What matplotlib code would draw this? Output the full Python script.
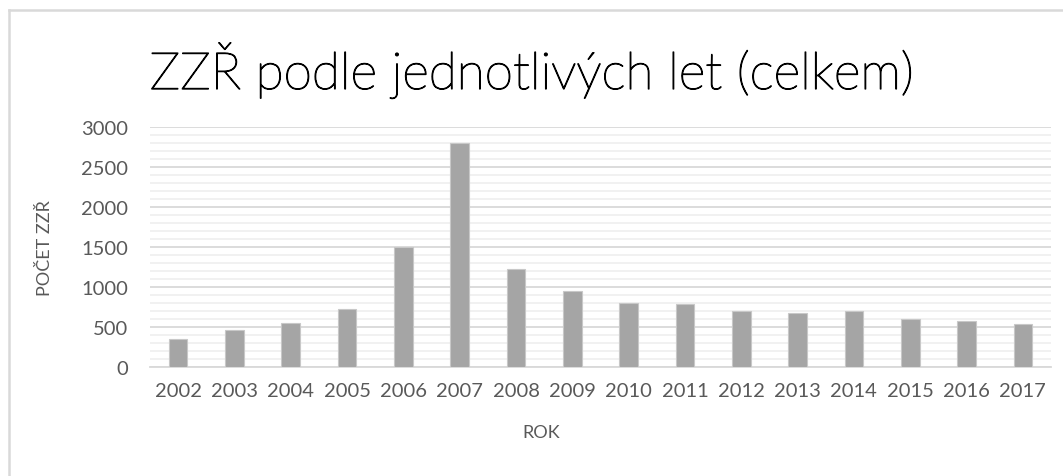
import matplotlib.pyplot as plt
import matplotlib.patheffects as pe
from matplotlib.lines import Line2D
from matplotlib.ticker import MultipleLocator

years = ['2002', '2003', '2004', '2005', '2006', '2007', '2008', '2009',
         '2010', '2011', '2012', '2013', '2014', '2015', '2016', '2017']
counts = [350, 465, 545, 725, 1495, 2800, 1230, 945,
          800, 790, 695, 670, 705, 600, 575, 540]

plt.rcParams['font.family'] = ['Lato', 'DejaVu Sans']

TEXT = '#595959'
BAR = '#a5a5a5'

fig = plt.figure(figsize=(10.63, 4.77), dpi=100, facecolor='white')
ax = fig.add_axes([150 / 1063, 1 - 368 / 477, 901 / 1063, 240 / 477])

x = range(len(years))
ax.bar(x, counts, width=0.33, color=BAR, edgecolor='#c8c8c8', linewidth=0.8, zorder=3)

ax.set_xlim(-0.5, len(years) - 0.5)
ax.set_ylim(0, 3000)
ax.yaxis.set_major_locator(MultipleLocator(500))
ax.yaxis.set_minor_locator(MultipleLocator(100))
ax.grid(which='major', axis='y', color='#d9d9d9', linewidth=1.3, zorder=0)
ax.grid(which='minor', axis='y', color='#f0f0f0', linewidth=1.3, zorder=0)

ax.set_xticks(list(x))
ax.set_xticklabels(years)
ax.tick_params(axis='both', which='both', length=0, colors=TEXT, labelsize=14.5)
ax.tick_params(axis='x', pad=11)
ax.tick_params(axis='y', pad=16)

for side in ['top', 'right', 'left']:
    ax.spines[side].set_visible(False)
ax.spines['bottom'].set_color('#d9d9d9')
ax.spines['bottom'].set_linewidth(1.3)

ax.set_xlabel('ROK', fontsize=13, color=TEXT)
ax.xaxis.set_label_coords((541 - 150) / 901, (368 - 425) / 240)
ax.set_ylabel('POČET ZZŘ', fontsize=13, color=TEXT)
ax.yaxis.set_label_coords((53 - 150) / 901, 0.5)

# light title face, thickened a little with a stroke
fig.text(0.50, 1 - 90 / 477, 'ZZŘ podle jednotlivých let (celkem)', ha='center', va='baseline',
         fontsize=37, color='black', fontweight='light',
         path_effects=[pe.withStroke(linewidth=0.9, foreground='black')])

# chart frame
fig.add_artist(Line2D([8.5 / 1063, 1.0], [1 - 10.5 / 477] * 2, color='#d9d9d9', linewidth=1.8))
fig.add_artist(Line2D([8.5 / 1063] * 2, [0, 1 - 10.5 / 477], color='#d9d9d9', linewidth=1.8))

fig.savefig('out.png', dpi=100, facecolor='white')
